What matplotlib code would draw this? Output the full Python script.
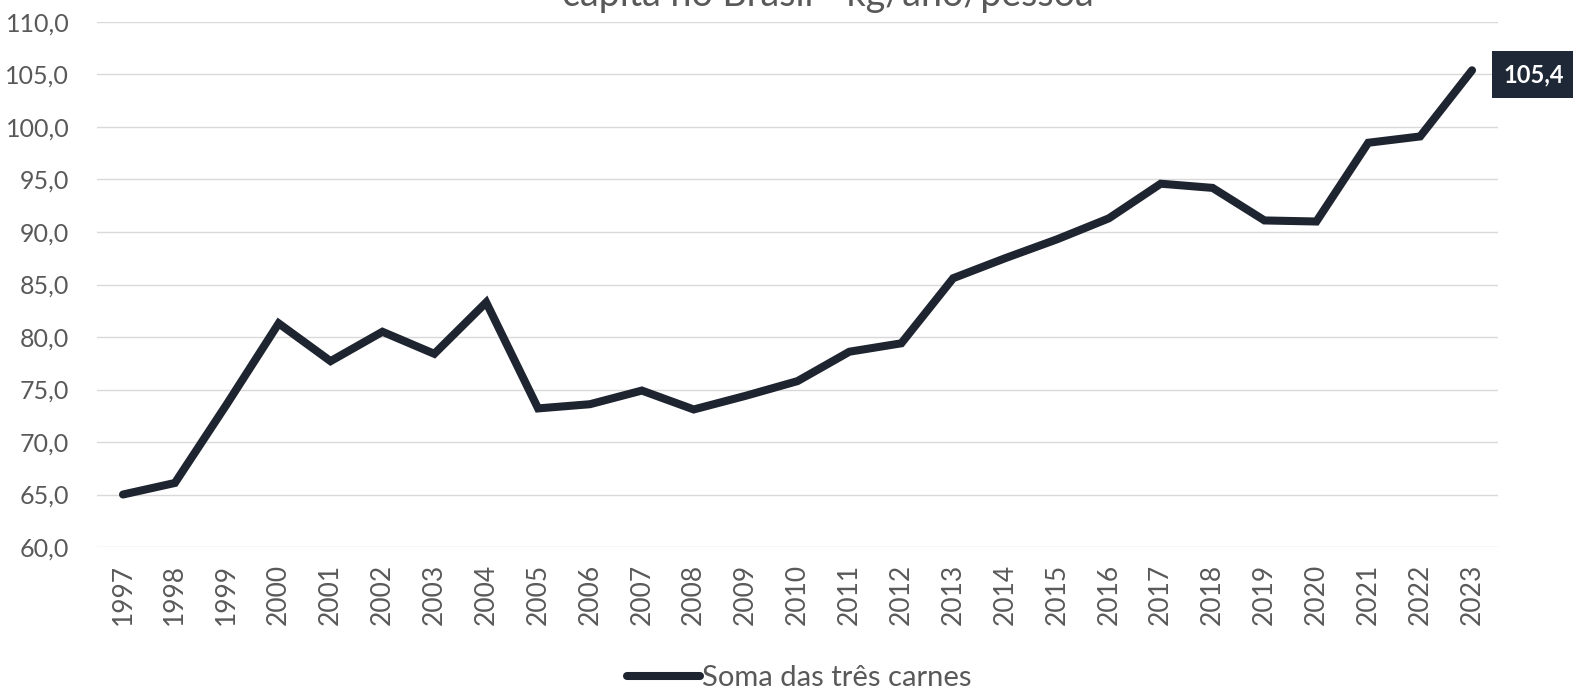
import matplotlib.pyplot as plt
from matplotlib.ticker import FuncFormatter

years = list(range(1997, 2024))
total = [65.0, 66.1, 73.6, 81.3, 77.7, 80.5, 78.4, 83.3, 73.2, 73.6,
         74.9, 73.1, 74.4, 75.8, 78.6, 79.4, 85.6, 87.5, 89.3, 91.3,
         94.6, 94.2, 91.1, 91.0, 98.5, 99.1, 105.4]
# only the second line of the title shows at the top of the reference
title = 'capita no Brasil - kg/ano/pessoa'
series_name = 'Soma das três carnes'

line_color = '#1e2530'
text_gray = '#595959'


def main():
    plt.rcParams['font.family'] = ['Lato', 'DejaVu Sans']
    fig = plt.figure(figsize=(15.73, 6.98), dpi=100)
    ax = fig.add_axes([0.0617, 0.2163, 0.8906, 0.7522])

    x = list(range(len(years)))
    ax.plot(x, total, color=line_color, linewidth=5.8,
            solid_capstyle='round', solid_joinstyle='miter',
            label=series_name, zorder=3)

    ax.set_xlim(-0.5, len(years) - 0.5)
    ax.set_ylim(60, 110)
    ax.set_yticks(range(60, 111, 5))
    ax.yaxis.set_major_formatter(FuncFormatter(lambda v, p: f'{v:.1f}'.replace('.', ',')))
    ax.set_xticks(x)
    ax.set_xticklabels([str(y) for y in years], rotation=90)

    ax.grid(axis='y', color='#d9d9d9', linewidth=1)
    ax.set_axisbelow(True)
    for s in ax.spines.values():
        s.set_visible(False)
    ax.tick_params(length=0, labelsize=18, colors=text_gray)
    ax.tick_params(axis='y', pad=20)
    ax.tick_params(axis='x', labelsize=19, pad=12)

    # last value label
    ax.annotate(f'{total[-1]:.1f}'.replace('.', ','), xy=(x[-1], total[-1]),
                xytext=(23, -3), textcoords='offset points', ha='left', va='center',
                fontsize=17, color='white', fontweight='bold',
                bbox=dict(boxstyle='square,pad=0.5', fc='#1f2836', ec='none'),
                annotation_clip=False)

    # title cut off at the top of the image, as in the source picture
    fig.text(0.526, 0.991, title, ha='center', va='baseline', fontsize=27,
             color=text_gray)

    leg = fig.legend(loc='lower center', bbox_to_anchor=(0.508, -0.028), frameon=False,
                     fontsize=21, handlelength=2.5, handletextpad=0.05)
    for t in leg.get_texts():
        t.set_color(text_gray)

    fig.savefig('out.png', dpi=100)


if __name__ == '__main__':
    main()
